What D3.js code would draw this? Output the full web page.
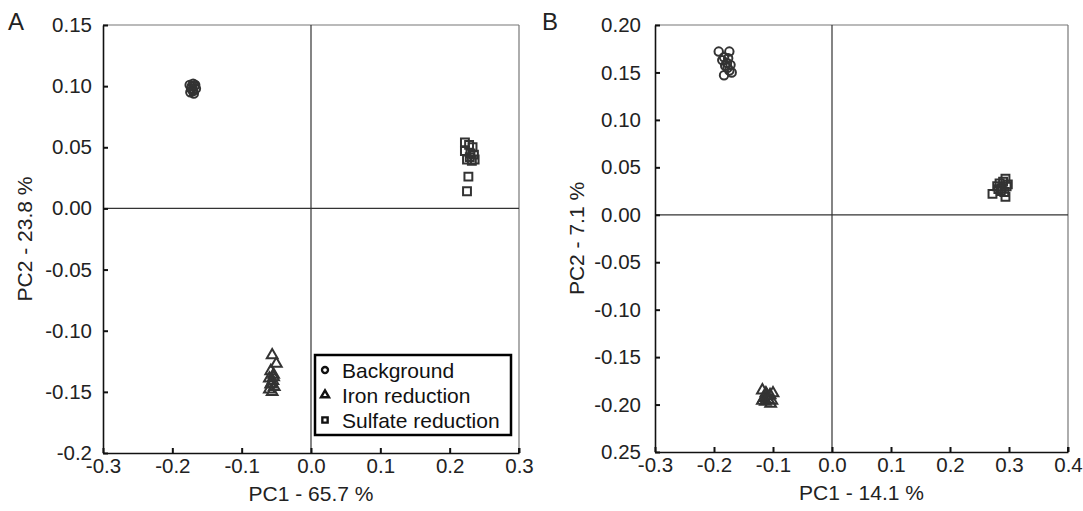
<!DOCTYPE html>
<html>
<head>
<meta charset="utf-8">
<script src="https://cdn.jsdelivr.net/npm/d3@7"></script>
<style>
  body { margin: 0; background: #fff; }
  svg { font-family: "Liberation Sans", Arial, sans-serif; }
</style>
</head>
<body>
<script>
// ---- data ----
const groups = ['Background', 'Iron reduction', 'Sulfate reduction'];

// panel A: PC1 vs PC2
const aBackground = [[-0.175, 0.101], [-0.170, 0.102], [-0.168, 0.100], [-0.173, 0.098], [-0.170, 0.096],
  [-0.166, 0.098], [-0.174, 0.095], [-0.169, 0.094], [-0.172, 0.100], [-0.167, 0.101], [-0.171, 0.097]];
const aIron = [[-0.056, -0.120], [-0.050, -0.127], [-0.058, -0.133], [-0.054, -0.136], [-0.060, -0.139],
  [-0.055, -0.141], [-0.058, -0.144], [-0.053, -0.146], [-0.060, -0.148], [-0.056, -0.150], [-0.054, -0.138], [-0.057, -0.143]];
const aSulfate = [[0.222, 0.054], [0.228, 0.052], [0.233, 0.050], [0.222, 0.047], [0.230, 0.045], [0.235, 0.044],
  [0.225, 0.040], [0.232, 0.039], [0.236, 0.040], [0.229, 0.042], [0.227, 0.026], [0.225, 0.014]];

// panel B
const bBackground = [[-0.192, 0.172], [-0.174, 0.172], [-0.183, 0.166], [-0.176, 0.165], [-0.186, 0.163], [-0.178, 0.160],
  [-0.172, 0.158], [-0.181, 0.157], [-0.174, 0.152], [-0.170, 0.150], [-0.183, 0.147], [-0.177, 0.155]];
const bIron = [[-0.118, -0.185], [-0.112, -0.188], [-0.105, -0.190], [-0.100, -0.188], [-0.115, -0.193], [-0.108, -0.195],
  [-0.102, -0.196], [-0.118, -0.196], [-0.110, -0.191], [-0.104, -0.199], [-0.113, -0.197]];
const bSulfate = [[0.272, 0.022], [0.280, 0.030], [0.284, 0.033], [0.288, 0.028], [0.290, 0.035], [0.294, 0.038],
  [0.296, 0.030], [0.292, 0.024], [0.294, 0.019], [0.286, 0.025], [0.298, 0.032], [0.282, 0.027]];

// ticks
const aXTicks = [-0.3, -0.2, -0.1, 0.0, 0.1, 0.2, 0.3];
const aXLabels = ['-0.3', '-0.2', '-0.1', '0.0', '0.1', '0.2', '0.3'];
const aYTicks = [0.15, 0.10, 0.05, 0.0, -0.05, -0.10, -0.15, -0.2];
const aYLabels = ['0.15', '0.10', '0.05', '0.00', '-0.05', '-0.10', '-0.15', '-0.2'];
const bXTicks = [-0.3, -0.2, -0.1, 0.0, 0.1, 0.2, 0.3, 0.4];
const bXLabels = ['-0.3', '-0.2', '-0.1', '0.0', '0.1', '0.2', '0.3', '0.4'];
const bYTicks = [0.20, 0.15, 0.10, 0.05, 0.0, -0.05, -0.10, -0.15, -0.20, -0.25];
const bYLabels = ['0.20', '0.15', '0.10', '0.05', '0.00', '-0.05', '-0.10', '-0.15', '-0.20', '0.25'];

const width = 1083;
const height = 511;

const svg = d3.select('body').append('svg')
    .attr('width', width)
    .attr('height', height);

const symbols = {
  'Background': d3.symbolCircle,
  'Iron reduction': d3.symbolTriangle,
  'Sulfate reduction': d3.symbolSquare
};
const symSize = { 'Background': 56, 'Iron reduction': 50, 'Sulfate reduction': 62 };

function drawPanel(cfg) {
  const x = d3.scaleLinear().domain(cfg.xDomain).range([cfg.left, cfg.right]);
  const y = d3.scaleLinear().domain(cfg.yDomain).range([cfg.bottom, cfg.top]);
  const g = svg.append('g');

  // top + right frame (grey)
  g.append('line').attr('x1', cfg.left).attr('x2', cfg.right).attr('y1', cfg.top).attr('y2', cfg.top)
    .attr('stroke', '#777').attr('stroke-width', 1.2);
  g.append('line').attr('x1', cfg.right).attr('x2', cfg.right).attr('y1', cfg.top).attr('y2', cfg.bottom)
    .attr('stroke', '#777').attr('stroke-width', 1.2);

  // zero lines
  g.append('line').attr('x1', x(0)).attr('x2', x(0)).attr('y1', cfg.top).attr('y2', cfg.bottom)
    .attr('stroke', '#333').attr('stroke-width', 1.2);
  g.append('line').attr('x1', cfg.left).attr('x2', cfg.right).attr('y1', y(0)).attr('y2', y(0))
    .attr('stroke', '#333').attr('stroke-width', 1.2);

  // axes, ticks pointing inward
  const xAxis = d3.axisBottom(x).tickValues(cfg.xTicks)
    .tickFormat((d, i) => cfg.xLabels[i]).tickSize(-5).tickPadding(5).tickSizeOuter(0);
  const yAxis = d3.axisLeft(y).tickValues(cfg.yTicks)
    .tickFormat((d, i) => cfg.yLabels[i]).tickSize(-5).tickPadding(cfg.yPad).tickSizeOuter(0);

  const gx = g.append('g').attr('transform', `translate(0,${cfg.bottom})`).call(xAxis);
  const gy = g.append('g').attr('transform', `translate(${cfg.left},0)`).call(yAxis);
  [gx, gy].forEach(a => {
    a.select('.domain').attr('stroke', '#111').attr('stroke-width', 1.6);
    a.selectAll('.tick line').attr('stroke', '#111').attr('stroke-width', 2);
    a.selectAll('.tick text').attr('fill', '#222').style('font-size', '20.5px')
      .style('font-family', '"Liberation Sans", Arial, sans-serif');
  });
  gx.selectAll('.tick text').attr('y', 5).attr('dy', '0.72em');
  // right-corner tick
  g.append('line').attr('x1', cfg.right).attr('x2', cfg.right).attr('y1', cfg.bottom).attr('y2', cfg.bottom - 5)
    .attr('stroke', '#111').attr('stroke-width', 2);

  // titles
  g.append('text').attr('x', (cfg.left + cfg.right) / 2).attr('y', cfg.bottom + 48)
    .attr('text-anchor', 'middle').attr('fill', '#222').style('font-size', '21px').text(cfg.xTitle);
  g.append('text')
    .attr('transform', `translate(${cfg.yTitleX},${(cfg.top + cfg.bottom) / 2}) rotate(-90)`)
    .attr('text-anchor', 'middle').attr('fill', '#222').style('font-size', '21px').text(cfg.yTitle);
  g.append('text').attr('x', cfg.letterX).attr('y', 30).attr('fill', '#222')
    .style('font-size', '24px').text(cfg.letter);

  // points
  cfg.series.forEach((pts, k) => {
    const name = groups[k];
    g.selectAll(null).data(pts).enter().append('path')
      .attr('d', d3.symbol().type(symbols[name]).size(symSize[name]))
      .attr('transform', d => `translate(${x(d[0])},${y(d[1])})`)
      .attr('fill', 'none')
      .attr('stroke', '#333')
      .attr('stroke-width', 2);
  });
  return g;
}

const gA = drawPanel({
  left: 103, right: 519, top: 25, bottom: 453,
  xDomain: [-0.3, 0.3], yDomain: [-0.2, 0.15],
  xTicks: aXTicks, xLabels: aXLabels, yTicks: aYTicks, yLabels: aYLabels, yPad: 11,
  xTitle: 'PC1 - 65.7 %', yTitle: 'PC2 - 23.8 %', yTitleX: 32, letter: 'A', letterX: 8,
  series: [aBackground, aIron, aSulfate]
});

drawPanel({
  left: 655, right: 1068, top: 25, bottom: 452,
  xDomain: [-0.3, 0.4], yDomain: [-0.25, 0.20],
  xTicks: bXTicks, xLabels: bXLabels, yTicks: bYTicks, yLabels: bYLabels, yPad: 14,
  xTitle: 'PC1 - 14.1 %', yTitle: 'PC2 - 7.1 %', yTitleX: 584, letter: 'B', letterX: 542,
  series: [bBackground, bIron, bSulfate]
});

// legend in panel A
const legend = gA.append('g').attr('transform', 'translate(315,355)');
legend.append('rect').attr('x', 0).attr('y', 0).attr('width', 196).attr('height', 80)
  .attr('fill', '#fff').attr('stroke', '#000').attr('stroke-width', 2.5);
const items = legend.selectAll('.legend-item').data(groups).enter().append('g')
  .attr('class', 'legend-item')
  .attr('transform', (d, i) => `translate(0,${15 + i * 25})`);
items.append('path')
  .attr('d', d => d3.symbol().type(symbols[d]).size(28)())
  .attr('transform', 'translate(10,0)')
  .attr('fill', 'none').attr('stroke', '#111').attr('stroke-width', 2.4);
items.append('text').attr('x', 27).attr('y', 0).attr('dy', '0.36em')
  .attr('fill', '#111').style('font-size', '21px').text(d => d);
</script>
</body>
</html>
